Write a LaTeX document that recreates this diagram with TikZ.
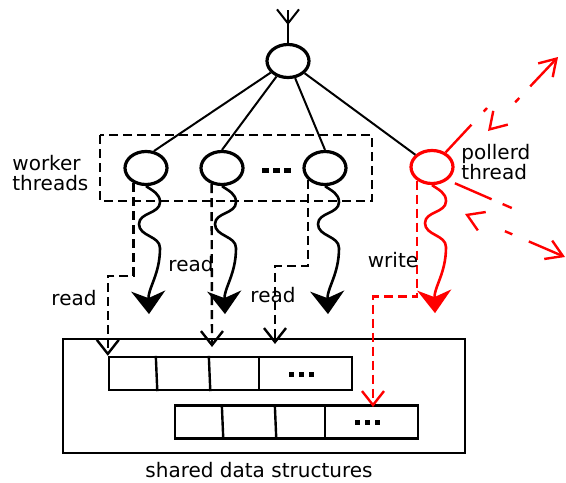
\documentclass[tikz,border=0pt]{standalone}
\usepackage{fontspec}
\setsansfont{DejaVu Sans}
\usetikzlibrary{arrows.meta, positioning, calc, shapes.geometric}

\begin{document}
\begin{tikzpicture}[
    x=0.5pt, y=0.5pt,
    font=\sffamily\fontsize{10}{10}\selectfont,
    thr/.style={draw, ellipse, line width=1.6pt, minimum width=21pt, minimum height=16.5pt, inner sep=0pt}, % thread circles
    link/.style={line width=1pt},
    dsh/.style={line width=1.2pt, dash pattern=on 4.5pt off 2.5pt},
    opentip/.style={-{Straight Barb[length=7pt,width=11pt]}},
    bothtips/.style={{Straight Barb[length=8pt,width=10pt]}-{Straight Barb[length=8pt,width=10pt]}},
    flow/.style={line width=1.3pt, -{Stealth[length=11.5pt,width=17pt,inset=3.5pt]}}, % wavy run arrows
    cell/.style={draw, line width=1.2pt, minimum width=121.5pt, minimum height=16.5pt, inner sep=0pt},
    txt/.style={inner sep=0pt, align=left}
]
    \useasboundingbox (0,0) rectangle (566,-482);

    % Parent and threads
    \node[thr] (root) at (288,-61) {};
    \node[thr] (wk1) at (146,-168) {};
    \node[thr] (wk2) at (222,-168) {};
    \node[thr] (wk3) at (325,-168) {};
    \node[thr, red] (pl) at (432,-167) {};
    % dots between worker threads
    \foreach \x in {265,276,287}
        \fill (\x-3.5,-167.5) rectangle ++(7,-5);

    % Incoming line on top
    \coordinate (in) at (288,-10);
    \draw[link] (root) -- (in);
    \draw[link, opentip] (in) -- ++(0,-15);

    % Links to the threads
    \draw[link] (root) -- (wk1.65);
    \draw[link] (root) -- (wk2.north);
    \draw[link] (root) -- (wk3.north);
    \draw[link] (root) -- (pl);

    % Worker pool box
    \draw[dsh] (100,-135) rectangle (372,-201);
    \node[txt, anchor=west] (wlbl) at (12,-173) {worker\\threads};
    \node[txt, anchor=west] (plbl) at (461,-162.5) {pollerd\\thread};

    % Wavy arrows under each thread
    \foreach \n/\c in {wk1/black, wk2/black, wk3/black, pl/red}
        \draw[flow, \c] (\n.south) to[out=-35,in=90] ++(14,-16)
            to[out=-90,in=90] ++(-21,-22) to[out=-90,in=90] ++(21,-24)
            to[out=-90,in=92] ++(-11,-66);

    % Shared data structures
    \node[draw, line width=1.2pt, minimum width=201pt, minimum height=57pt, inner sep=0pt] (shared) at (264,-396) {};
    \node (slbl) at (259,-470) {shared data structures};
    \node[cell] (arrA) at (230.5,-373.5) {};
    \node[cell] (arrB) at (296.5,-422) {};
    \foreach \a in {arrA,arrB} {
        \foreach \d/\e in {48/49.5, 101/102.5, 151/151}
            \draw[line width=1.2pt] ($(\a.north west)+(\d,0)$) -- ($(\a.south west)+(\e,0)$);
        \foreach \d in {184,194,204}
            \fill ($(\a.north west)+(\d-2.5,-16)$) rectangle ++(5,-5);
    }

    % Read and write accesses
    \coordinate (rd2) at (212,-347);
    \coordinate (rd3) at (275,-344);
    \coordinate (wr) at (373,-407);
    \draw[dsh, opentip] (wk1.230) -- ++(0,-93) -| (arrA.north west);
    \draw[dsh, opentip] (wk2.237) -- (rd2);
    \draw[dsh, opentip] (wk3.215) -- ++(0,-86) -| (rd3);
    \draw[dsh, red, opentip] (pl.222) -- ++(0,-116) -| (wr);
    \node (r1) at (74,-298) {read};
    \node (r2) at (191,-264) {read};
    \node (r3) at (273,-295) {read};
    \node (w1) at (393,-260) {write};

    % Poller connections
    \coordinate (ne) at (487,-108);
    \coordinate (neA) at (488,-131);
    \coordinate (neB) at (558,-57);
    \draw[red, line width=1.2pt, dash pattern=on 19pt off 9pt on 3pt] (pl) -- (ne);
    \draw[red, line width=1.2pt, bothtips, dash pattern=on 0pt off 18pt on 3pt off 8pt on 30pt] (neA) -- (neB);
    \coordinate (se) at (514,-209);
    \coordinate (seA) at (465,-214);
    \coordinate (seB) at (565,-257);
    \draw[red, line width=1.2pt, shorten <=4pt, dash pattern=on 20pt off 6pt on 5pt] (pl.-40) -- (se);
    \draw[red, line width=1.2pt, bothtips, dash pattern=on 0pt off 20pt on 4pt off 9pt on 30pt] (seA) -- (seB);

\end{tikzpicture}
\end{document}
